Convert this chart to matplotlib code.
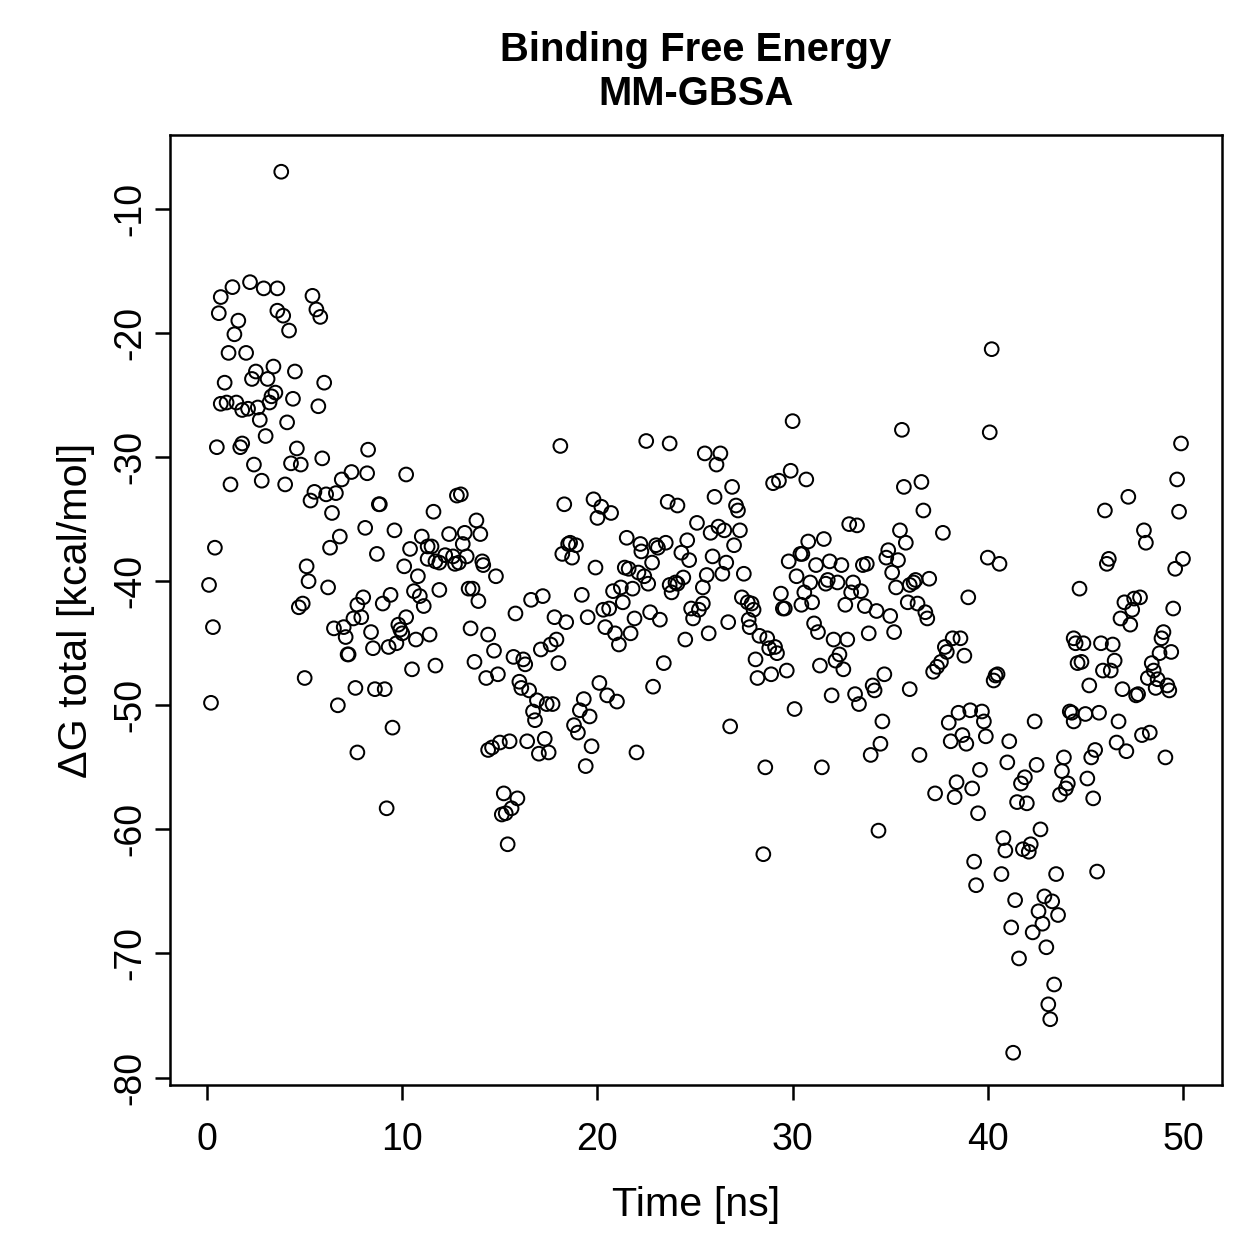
import numpy as np
import matplotlib
matplotlib.use("Agg")
import matplotlib.pyplot as plt

plt.rcParams['font.family'] = ['Liberation Sans', 'DejaVu Sans']

# Time [ns] and total binding free energy [kcal/mol]
time_ns = [
    0.1, 0.2, 0.3, 0.4, 0.5, 0.6, 0.7, 0.7, 0.9, 1.0, 1.1, 1.2, 1.3, 1.4, 1.5, 1.6, 1.7, 1.8, 1.8, 2.0,
    2.1, 2.2, 2.3, 2.4, 2.5, 2.6, 2.7, 2.8, 2.9, 3.0, 3.1, 3.2, 3.3, 3.4, 3.5, 3.6, 3.6, 3.8, 3.9, 4.0,
    4.1, 4.2, 4.3, 4.4, 4.5, 4.6, 4.7, 4.8, 4.9, 5.0, 5.1, 5.2, 5.3, 5.4, 5.5, 5.6, 5.7, 5.8, 5.9, 6.0,
    6.1, 6.2, 6.3, 6.4, 6.5, 6.6, 6.7, 6.8, 6.9, 7.0, 7.1, 7.2, 7.25, 7.4, 7.5, 7.6, 7.7, 7.7, 7.9, 8.0,
    8.2, 8.25, 8.4, 8.5, 8.6, 8.7, 8.8, 8.85, 9.0, 9.1, 9.2, 9.3, 9.4, 9.5, 9.7, 9.8, 9.9, 10.0, 10.1, 10.2,
    10.2, 10.5, 10.6, 10.7, 10.8, 10.9, 11.1, 8.1, 9.6, 10.4, 11.0, 11.3, 11.5, 11.3, 11.7, 11.9, 11.4, 11.6, 11.7, 11.9,
    12.2, 12.4, 12.6, 12.7, 12.8, 12.9, 13.0, 13.1, 13.2, 13.3, 13.4, 13.5, 13.6, 13.7, 13.8, 13.9, 14.0, 14.1, 14.15, 14.3,
    14.4, 14.4, 14.6, 14.7, 14.8, 14.9, 15.0, 15.1, 15.2, 15.3, 15.4, 15.5, 15.6, 15.7, 15.8, 15.9, 16.0, 16.1, 16.2, 16.3,
    16.4, 16.5, 16.6, 16.7, 16.8, 16.9, 17.0, 17.1, 17.2, 17.3, 17.4, 17.5, 17.6, 17.7, 17.8, 17.9, 18.0, 18.1, 18.2, 18.3,
    18.4, 18.5, 18.6, 18.7, 18.8, 18.9, 19.0, 19.1, 19.2, 19.3, 19.4, 19.5, 19.6, 19.7, 19.8, 19.9, 20.0, 20.1, 20.2, 20.3,
    20.4, 20.5, 20.6, 20.7, 20.8, 20.9, 21.0, 21.1, 21.2, 21.3, 21.4, 21.5, 21.6, 21.7, 21.8, 21.9, 22.0, 22.1, 22.2, 22.25,
    22.4, 22.5, 22.6, 22.7, 22.8, 22.85, 23.0, 23.1, 23.2, 23.4, 23.5, 23.6, 23.7, 23.7, 23.8, 24.0, 24.1, 24.1, 24.3, 24.4,
    24.5, 24.6, 24.7, 24.8, 24.9, 25.1, 25.2, 25.4, 25.4, 25.5, 25.6, 25.7, 25.8, 25.9, 26.0, 26.1, 26.2, 26.3, 26.4, 26.5,
    26.6, 26.7, 26.8, 26.9, 27.0, 27.1, 27.2, 27.3, 27.4, 27.5, 27.7, 27.75, 27.8, 27.9, 28.0, 28.1, 28.2, 28.3, 28.5, 28.6,
    28.7, 28.8, 28.9, 29.0, 29.1, 29.2, 29.3, 29.4, 29.5, 29.6, 29.7, 29.8, 29.9, 30.0, 30.1, 30.2, 30.4, 30.45, 30.5, 30.6,
    30.7, 30.8, 30.9, 31.0, 31.1, 31.2, 31.3, 31.4, 31.5, 31.6, 31.7, 31.8, 31.9, 32.0, 32.1, 32.2, 32.3, 32.4, 32.5, 32.6,
    32.7, 32.8, 32.9, 33.0, 33.1, 33.2, 33.3, 33.4, 33.5, 33.6, 33.7, 33.8, 33.9, 34.0, 34.1, 34.2, 34.3, 34.4, 34.5, 34.6,
    34.7, 34.8, 34.9, 35.0, 35.1, 35.2, 35.3, 35.4, 35.5, 35.6, 35.7, 35.8, 35.9, 36.0, 36.0, 36.2, 36.3, 36.4, 36.5, 36.6,
    36.7, 36.8, 36.9, 37.0, 37.2, 37.3, 37.4, 37.6, 37.7, 37.8, 37.9, 38.0, 38.1, 38.2, 38.3, 38.4, 38.5, 38.6, 38.7, 38.8,
    38.9, 39.0, 39.1, 39.2, 39.3, 39.4, 39.5, 39.6, 39.7, 39.8, 39.9, 40.0, 40.1, 40.2, 40.3, 40.4, 40.5, 40.6, 40.7, 40.8,
    40.9, 41.0, 41.1, 41.2, 41.3, 41.4, 41.5, 41.6, 41.7, 41.8, 41.9, 42.0, 42.1, 42.2, 42.3, 42.4, 42.5, 42.6, 42.7, 42.8,
    42.9, 43.0, 43.1, 43.2, 43.3, 43.4, 43.5, 43.6, 43.7, 43.8, 43.9, 44.0, 44.1, 44.2, 44.3, 44.4, 44.4, 44.5, 44.6, 44.7,
    44.8, 44.9, 45.0, 45.1, 45.2, 45.3, 45.4, 45.5, 45.6, 45.7, 45.8, 45.9, 46.0, 46.1, 46.2, 46.3, 46.4, 46.5, 46.6, 46.7,
    46.8, 46.9, 47.0, 47.1, 47.2, 47.3, 47.4, 47.5, 47.6, 47.7, 47.8, 47.9, 48.0, 48.1, 48.2, 48.3, 48.4, 48.5, 48.6, 48.7,
    48.8, 48.9, 49.0, 49.1, 49.2, 49.3, 49.4, 49.5, 49.6, 49.7, 49.8, 49.9, 50.0,
]

dg_total = [
    -40.3, -49.8, -43.7, -37.3, -29.2, -18.4, -17.1, -25.7, -24.0, -25.6, -21.6, -32.2, -16.3, -20.1, -25.6, -19.0, -29.2, -28.9, -26.2, -21.6,
    -26.1, -15.9, -23.7, -30.6, -23.1, -26.0, -27.0, -31.9, -16.4, -28.3, -23.7, -25.6, -25.1, -22.7, -24.8, -16.4, -18.2, -7.0, -18.6, -32.2,
    -27.2, -19.8, -30.5, -25.3, -23.1, -29.3, -42.1, -30.6, -41.8, -47.8, -38.8, -40.0, -33.5, -17.0, -32.8, -18.1, -25.9, -18.7, -30.1, -24.0,
    -33.0, -40.5, -37.3, -34.5, -43.8, -32.9, -50.0, -36.4, -31.8, -43.7, -44.5, -45.9, -45.9, -31.2, -43.0, -48.6, -41.9, -53.8, -42.9, -41.3,
    -31.3, -29.4, -44.1, -45.4, -48.7, -37.8, -33.8, -33.8, -41.8, -48.7, -58.3, -45.3, -41.1, -51.8, -45.0, -43.5, -43.9, -44.2, -38.8, -31.4,
    -42.9, -47.1, -40.8, -44.7, -39.6, -41.2, -42.0, -35.7, -35.9, -37.4, -36.4, -37.2, -37.2, -38.2, -38.4, -38.5, -44.3, -34.4, -46.8, -40.7,
    -37.9, -36.2, -38.0, -38.6, -33.1, -38.5, -33.0, -37.0, -36.1, -38.0, -40.6, -43.8, -40.6, -46.5, -35.1, -41.6, -36.2, -38.4, -38.7, -47.8,
    -44.3, -53.6, -53.4, -45.6, -39.6, -47.5, -53.0, -58.8, -57.1, -58.7, -61.2, -52.9, -58.3, -46.1, -42.6, -57.5, -48.1, -48.6, -46.3, -46.7,
    -52.9, -48.8, -41.5, -50.5, -51.2, -49.6, -53.9, -45.5, -41.2, -52.7, -49.9, -53.8, -45.1, -49.9, -42.9, -44.7, -46.6, -29.1, -37.8, -33.8,
    -43.3, -37.0, -36.9, -38.1, -51.6, -37.1, -52.2, -50.4, -41.1, -49.5, -54.9, -42.9, -50.9, -53.3, -33.4, -38.9, -34.9, -48.2, -34.0, -42.3,
    -43.7, -49.2, -42.2, -34.5, -40.8, -44.2, -49.7, -45.1, -40.5, -41.7, -38.9, -36.5, -39.0, -44.2, -40.6, -43.0, -53.8, -39.3, -37.0, -37.6,
    -39.6, -28.7, -40.2, -42.5, -38.5, -48.5, -37.1, -37.3, -43.1, -46.6, -36.9, -33.6, -28.9, -40.3, -40.9, -40.1, -33.9, -40.2, -37.7, -39.7,
    -44.7, -36.7, -38.3, -42.2, -43.0, -35.3, -42.3, -41.8, -40.5, -29.7, -39.5, -44.2, -36.1, -38.0, -33.2, -30.6, -35.6, -29.7, -39.4, -35.9,
    -38.5, -43.3, -51.7, -32.4, -37.1, -33.9, -34.3, -35.9, -41.3, -39.4, -41.7, -43.1, -43.7, -41.8, -42.3, -46.3, -47.8, -44.4, -62.0, -55.0,
    -44.6, -45.4, -47.5, -32.1, -45.3, -45.8, -31.9, -41.0, -42.2, -42.2, -47.2, -38.4, -31.1, -27.1, -50.3, -39.6, -37.8, -41.9, -37.8, -40.9,
    -31.8, -36.8, -40.1, -41.7, -43.4, -38.7, -44.1, -46.8, -55.0, -36.6, -40.2, -39.9, -38.4, -49.2, -44.7, -46.4, -40.1, -45.9, -38.7, -47.1,
    -41.9, -44.7, -35.4, -40.9, -40.1, -49.1, -35.5, -49.9, -40.8, -38.7, -42.0, -38.6, -44.2, -54.0, -48.4, -48.8, -42.4, -60.1, -53.1, -51.3,
    -47.5, -38.1, -37.5, -42.8, -39.3, -44.1, -40.5, -38.3, -35.9, -27.8, -32.4, -36.9, -41.7, -40.3, -48.7, -40.1, -39.9, -41.8, -54.0, -32.0,
    -34.3, -42.5, -43.0, -39.8, -47.3, -57.1, -46.9, -46.5, -36.1, -45.3, -45.7, -51.4, -52.9, -44.6, -57.4, -56.2, -50.6, -44.6, -52.4, -46.0,
    -53.1, -41.3, -50.4, -56.7, -62.6, -64.5, -58.7, -55.2, -50.5, -51.3, -52.5, -38.1, -28.0, -21.3, -48.0, -47.6, -47.5, -38.6, -63.6, -60.7,
    -61.7, -54.6, -52.9, -67.9, -78.0, -65.7, -57.8, -70.4, -56.3, -61.6, -55.8, -57.9, -61.8, -61.2, -68.3, -51.3, -54.8, -66.6, -60.0, -67.6,
    -65.4, -69.5, -74.1, -75.3, -65.8, -72.5, -63.6, -66.9, -57.2, -55.3, -54.2, -56.7, -56.3, -50.5, -50.6, -51.3, -44.6, -45.0, -46.6, -40.6,
    -46.5, -45.0, -50.7, -55.9, -48.4, -54.2, -57.5, -53.6, -63.4, -50.6, -45.0, -47.2, -34.3, -38.6, -38.2, -47.2, -45.1, -46.4, -53.0, -51.3,
    -43.0, -48.7, -41.7, -53.7, -33.2, -43.5, -42.3, -41.4, -49.2, -49.1, -41.3, -52.4, -35.9, -36.9, -47.8, -52.2, -46.6, -47.2, -48.6, -47.9,
    -45.8, -44.6, -44.1, -54.2, -48.4, -48.8, -45.7, -42.2, -39.0, -31.8, -34.4, -28.9, -38.2,
]

x_ticks = [0, 10, 20, 30, 40, 50]
y_ticks = [-10, -20, -30, -40, -50, -60, -70, -80]

fig = plt.figure(figsize=(1259 / 180, 1259 / 180), dpi=180)
ax = fig.add_axes([170 / 1259, 1 - 1085 / 1259, (1222 - 170) / 1259, (1085 - 135) / 1259])

ax.scatter(time_ns, dg_total, s=30, facecolors='none', edgecolors='black', linewidths=0.8)

ax.set_xlim(-1.9, 52.0)
ax.set_ylim(-80.6, -4.04)
ax.set_xticks(x_ticks)
ax.set_yticks(y_ticks)
ax.set_yticklabels([str(v) for v in y_ticks], rotation=90, va='center')
ax.tick_params(direction='out', length=6, width=1.0, labelsize=15, color='black')
ax.tick_params(axis='x', pad=9)
ax.tick_params(axis='y', pad=2.5)
for sp in ax.spines.values():
    sp.set_linewidth(1.0)

ax.set_xlabel("Time [ns]", fontsize=16.5, labelpad=11)
ax.set_ylabel("ΔG total [kcal/mol]", fontsize=16.5, labelpad=7)
ax.set_title("Binding Free Energy\nMM-GBSA", fontsize=16, fontweight='bold', pad=12, linespacing=1.2)

fig.savefig("out.png", dpi=180)
